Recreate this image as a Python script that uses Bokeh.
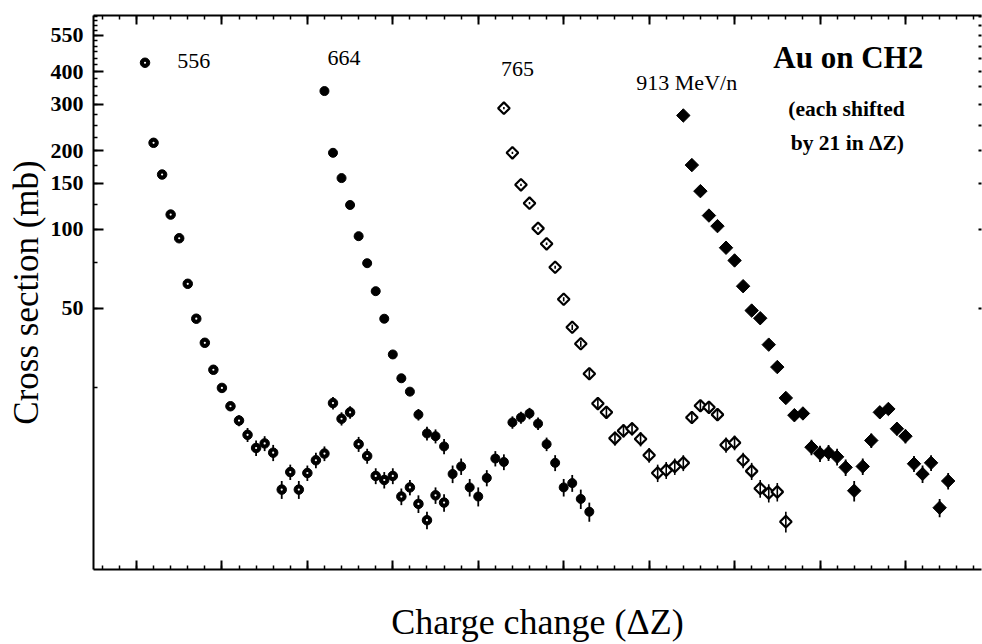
import numpy as np
from bokeh.plotting import figure
from bokeh.models import (LinearAxis, LogAxis, FixedTicker, Range1d, Label,
                          CustomJSTickFormatter, NumeralTickFormatter)
from bokeh.embed import file_html
from bokeh.resources import INLINE

# ---------------- data ----------------
SHIFT = 21  # each energy shifted by 21 in delta Z

# 556 MeV/n  (delta Z = 1 .. 36)
cs_556 = [432, 214, 162, 114, 92.6, 62.1, 45.7, 37.0, 29.2, 24.9, 21.2, 18.7,
          16.5, 14.7, 15.3, 14.1, 10.2, 11.9, 10.2, 11.8, 13.2, 14.0, 21.8, 19.0,
          20.1, 15.2, 13.7, 11.5, 11.1, 11.5, 9.6, 10.4, 9.0, 7.8, 9.7, 9.1]
err_556 = [4, 3, 2, 2, 1.5, 1.2, 1.0, 0.9, 0.8, 0.8, 0.8, 0.9,
           1.0, 1.0, 1.0, 1.0, 0.8, 0.8, 0.8, 0.8, 0.9, 0.9, 1.2, 1.1,
           1.1, 1.0, 0.9, 0.8, 0.8, 0.8, 0.7, 0.7, 0.7, 0.6, 0.7, 0.7]

# 664 MeV/n  (delta Z = 1 .. 32)
cs_664 = [337, 196, 157, 124, 94.3, 74.4, 58.2, 45.7, 33.4, 27.1, 24.1, 19.7,
          16.7, 16.3, 14.9, 11.7, 12.5, 10.4, 9.6, 11.3, 13.4, 13.0, 18.4, 19.2,
          19.9, 18.2, 15.2, 12.9, 10.4, 10.8, 9.4, 8.4]
err_664 = [3, 2, 1.5, 1.2, 1.0, 0.9, 0.8, 0.8, 0.8, 0.8, 0.8, 1.0,
           1.0, 1.0, 1.0, 0.9, 0.9, 0.8, 0.8, 0.8, 0.9, 0.9, 1.0, 1.0,
           1.0, 1.0, 0.9, 0.9, 0.8, 0.8, 0.8, 0.7]

# 765 MeV/n  (delta Z = 1 .. 34)
cs_765 = [290, 196, 148, 126, 101, 88.2, 71.8, 54.2, 42.4, 36.7, 28.2, 21.7,
          20.1, 16.0, 17.1, 17.4, 15.9, 13.8, 11.8, 12.1, 12.5, 12.9, 19.2, 21.3,
          21.0, 19.7, 15.1, 15.4, 13.2, 12.0, 10.3, 9.9, 10.0, 7.7]
err_765 = [3, 2, 1.5, 1.2, 1.0, 1.0, 1.0, 1.0, 1.0, 1.0, 1.0, 1.0,
           1.0, 1.0, 1.0, 1.0, 1.0, 0.9, 0.9, 0.9, 0.9, 0.9, 1.0, 1.0,
           1.0, 1.0, 1.0, 1.0, 0.9, 0.9, 0.8, 0.8, 0.8, 0.7]

# 913 MeV/n  (delta Z = 1 .. 32)
cs_913 = [272, 176, 140, 113, 103, 85.2, 76.2, 60.8, 49.1, 45.9, 36.4, 29.9,
          22.8, 19.6, 19.9, 14.8, 14.0, 14.1, 13.6, 12.4, 10.1, 12.5, 15.7, 20.1,
          20.7, 17.4, 16.3, 12.8, 11.7, 12.9, 8.7, 11.0]
err_913 = [3, 2, 1.5, 1.2, 1.0, 0.9, 0.8, 0.8, 0.8, 0.8, 0.8, 0.8,
           1.0, 1.0, 1.0, 1.0, 1.0, 1.0, 1.0, 0.9, 0.9, 0.9, 1.0, 1.0,
           1.0, 1.0, 1.0, 0.9, 0.9, 0.9, 0.7, 0.8]

y_tick_labels = [50, 100, 150, 200, 300, 400, 550]

FONT = "Liberation Serif"

# ---------------- figure ----------------
p = figure(width=982, height=644, y_axis_type="log",
           x_range=Range1d(-5.03, 98.9), y_range=Range1d(5.06, 654),
           x_axis_location=None, y_axis_location=None,
           output_backend="svg", toolbar_location=None,
           min_border_left=93, min_border_right=1, min_border_top=15,
           min_border_bottom=75)
p.xgrid.visible = False
p.ygrid.visible = False
p.outline_line_color = None
p.background_fill_color = "white"
p.border_fill_color = "white"

blank = CustomJSTickFormatter(code="return ''")
x_ticker = FixedTicker(ticks=list(range(0, 100, 10)),
                       minor_ticks=list(range(-4, 100, 2)))


def style_x(ax):
    ax.major_tick_in = 9
    ax.major_tick_out = 0
    ax.minor_tick_in = 4
    ax.minor_tick_out = 0
    ax.axis_line_width = 2
    ax.axis_line_color = "black"
    ax.major_tick_line_width = 2
    ax.minor_tick_line_width = 1.5
    ax.major_label_text_font_size = "1px"
    ax.major_label_standoff = 0


bottom = LinearAxis(ticker=x_ticker, formatter=blank,
                    axis_label="Charge change (ΔZ)")
style_x(bottom)
bottom.axis_label_text_font = FONT
bottom.axis_label_text_font_style = "normal"
bottom.axis_label_text_font_size = "36px"
bottom.axis_label_text_color = "black"
bottom.axis_label_standoff = 32
p.add_layout(bottom, "below")

top = LinearAxis(ticker=x_ticker, formatter=blank)
style_x(top)
p.add_layout(top, "above")

left = LogAxis(ticker=FixedTicker(ticks=y_tick_labels,
                                  minor_ticks=list(range(25, 651, 25))),
               formatter=NumeralTickFormatter(format="0"),
               axis_label="Cross section (mb)")
left.major_tick_in = 10
left.major_tick_out = 0
left.minor_tick_in = 4
left.minor_tick_out = 0
left.axis_line_width = 2
left.axis_line_color = "black"
left.major_tick_line_width = 2
left.minor_tick_line_width = 1.5
left.major_label_text_font = FONT
left.major_label_text_font_style = "bold"
left.major_label_text_font_size = "22px"
left.major_label_text_color = "black"
left.major_label_standoff = 10
left.axis_label_text_font = FONT
left.axis_label_text_font_style = "normal"
left.axis_label_text_font_size = "35px"
left.axis_label_text_color = "black"
left.axis_label_standoff = 2
p.add_layout(left, "left")

right = LogAxis(ticker=FixedTicker(ticks=list(range(50, 651, 50))),
                formatter=blank)
right.axis_line_color = None
right.major_tick_in = 3
right.major_tick_out = 0
right.major_tick_line_width = 2
right.major_label_text_font_size = "1px"
right.major_label_standoff = 0
p.add_layout(right, "right")

# ---------------- data glyphs ----------------
series = [(cs_556, err_556, 0), (cs_664, err_664, 1),
          (cs_765, err_765, 2), (cs_913, err_913, 3)]
xs = []
for cs, err, k in series:
    dz = np.arange(1, len(cs) + 1) + SHIFT * k
    xs.append(dz)

# error bars drawn under filled markers
for (cs, err, k), x in zip(series, xs):
    if k == 2:
        continue
    c = np.array(cs)
    e = np.array(err)
    p.segment(x0=x, y0=c - e, x1=x, y1=c + e, line_color="black", line_width=1.8)

# 556: circles with a small white hole
p.scatter(xs[0], cs_556, marker="circle", size=9.5, color="black")
p.scatter(xs[0], cs_556, marker="circle", size=2.2, fill_color="white",
          line_color=None)
# 664: filled circles
p.scatter(xs[1], cs_664, marker="circle", size=9, color="black")
# 913: filled diamonds
p.scatter(xs[3], cs_913, marker="square", angle=np.pi / 4, size=9.5,
          color="black")
# 765: open diamonds with error bar through
p.scatter(xs[2], cs_765, marker="square", angle=np.pi / 4, size=8.2,
          fill_color="white", line_color="black", line_width=2.2)
c = np.array(cs_765)
e = np.array(err_765)
p.segment(x0=xs[2], y0=c - e, x1=xs[2], y1=c + e, line_color="black",
          line_width=1.6)

# ---------------- annotations ----------------
def lab(x, y, text, size, bold=False):
    p.add_layout(Label(x=x, y=y, text=text, text_font=FONT,
                       text_font_size=size, text_align="center",
                       text_baseline="middle",
                       text_font_style="bold" if bold else "normal",
                       text_color="black"))


lab(6.7, 437, "556", "22px")
lab(24.3, 450, "664", "22px")
lab(44.6, 408, "765", "22px")
lab(64.4, 363, "913 MeV/n", "22px")
lab(83.3, 452, "Au on CH2", "31px", bold=True)
lab(83.1, 289, "(each shifted", "21.5px", bold=True)
lab(83.2, 214, "by 21 in ΔZ)", "21.5px", bold=True)

open("out.html", "w").write(file_html(p, INLINE))
